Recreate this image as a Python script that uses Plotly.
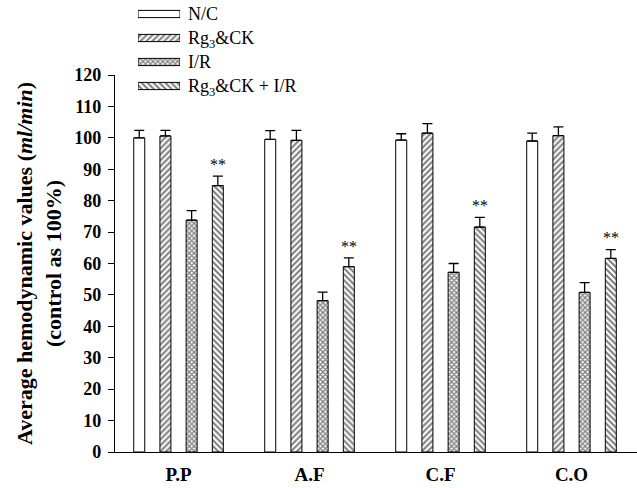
import plotly.graph_objects as go

categories = ["P.P", "A.F", "C.F", "C.O"]
series_names = ["N/C", "Rg<sub>3</sub>&CK", "I/R", "Rg<sub>3</sub>&CK + I/R"]
values = [
    [100.0, 99.5, 99.3, 99.0],
    [100.6, 99.2, 101.5, 100.7],
    [73.8, 48.2, 57.2, 50.8],
    [84.8, 59.0, 71.6, 61.6],
]
errors = [
    [2.4, 2.8, 2.0, 2.5],
    [1.8, 3.2, 3.0, 2.8],
    [3.0, 2.7, 2.8, 3.1],
    [3.0, 2.8, 3.1, 2.8],
]
patterns = ["", "/", "x", "\\"]
significance = ["**", "**", "**", "**"]
legend_rows = [0, 1, 2, 3]
legend_swatch = [1, 1, 1, 1]

FONT = "Liberation Serif"
H = 488
B = 36
PLOT_H = H - B


def py(px):
    return (H - B - px) / PLOT_H


def pattern(i):
    if i == 2:
        return dict(shape="x", fgcolor="black", bgcolor="white", size=3.5, solidity=0.6)
    return dict(shape=patterns[i], fgcolor="black", bgcolor="white", size=4.2, solidity=0.5)


fig = go.Figure()
for i, name in enumerate(series_names):
    fig.add_trace(go.Bar(
        x=categories, y=values[i], name=name, showlegend=False,
        marker=dict(color="white", line=dict(color="black", width=1), pattern=pattern(i)),
        error_y=dict(type="data", array=errors[i], arrayminus=[0] * 4, symmetric=False,
                     color="black", thickness=1.3, width=5),
    ))
    # legend swatch
    fig.add_trace(go.Bar(
        x=[legend_swatch[i]], y=[legend_rows[i]], orientation="h", base=0,
        width=0.3, showlegend=False, hoverinfo="skip",
        xaxis="x2", yaxis="y2",
        marker=dict(color="white", line=dict(color="black", width=1), pattern=pattern(i)),
    ))

for j, c in enumerate(categories):
    top = values[3][j] + errors[3][j]
    fig.add_annotation(x=j, y=top + 0.4, text=significance[j], showarrow=False,
                       xshift=39, yanchor="bottom",
                       font=dict(family=FONT, size=16, color="#000000"))

fig.update_layout(
    width=637, height=488,
    margin=dict(l=115, r=0, t=0, b=B, autoexpand=False),
    plot_bgcolor="white", paper_bgcolor="white",
    barmode="group", bargap=0.2, bargroupgap=0.58,
    font=dict(family=FONT, color="black"),
    showlegend=False,
    xaxis=dict(range=[-0.485, 3.5], showline=True, linecolor="black", linewidth=1.2,
               ticks="", showgrid=False, ticklabelstandoff=5, automargin=False,
               tickfont=dict(family=FONT, size=19, color="black", weight="bold")),
    yaxis=dict(domain=[0, py(75)], range=[0, 120], dtick=10, showline=True,
               linecolor="black", linewidth=1.2, automargin=False,
               ticks="outside", ticklen=6, tickcolor="black", showgrid=False, zeroline=False,
               ticklabelstandoff=3,
               tickfont=dict(family=FONT, size=18, color="black", weight="bold"),
               title=dict(text="<b>Average hemodynamic values (<i>ml/min</i>)</b><br><b>(control as 100%)</b>",
                          font=dict(family=FONT, size=22, color="black"), standoff=6)),
    xaxis2=dict(domain=[(138 - 115) / 522, (180 - 115) / 522], range=[0, 1], anchor="y2",
                visible=False, fixedrange=True, automargin=False),
    yaxis2=dict(domain=[py(98), py(2)], range=[3.5, -0.5], anchor="x2", side="right",
                showline=False, showgrid=False, zeroline=False, ticks="", automargin=False,
                tickmode="array", tickvals=legend_rows, ticktext=series_names,
                ticklabelstandoff=7,
                tickfont=dict(family=FONT, size=18, color="black")),
)

fig.write_html("out.html")
